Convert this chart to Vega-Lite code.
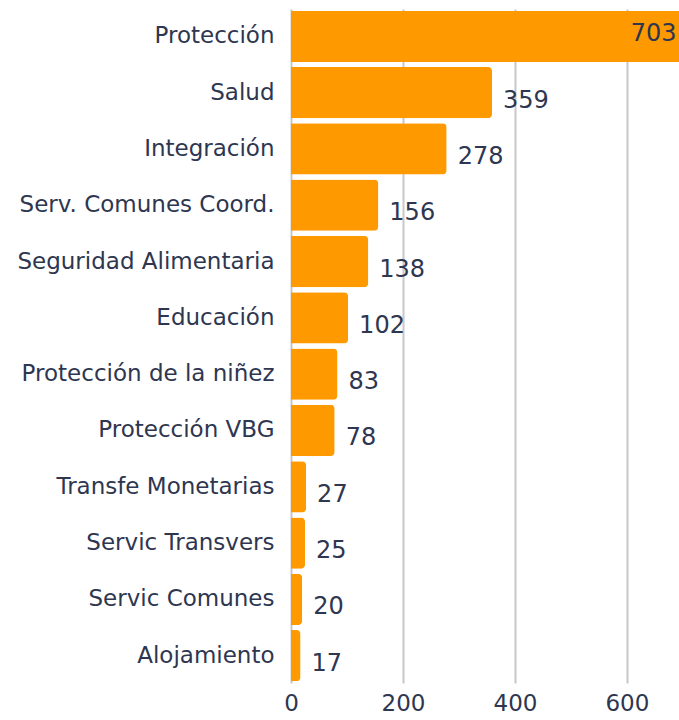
{
  "$schema": "https://vega.github.io/schema/vega-lite/v6.json",
  "width": 388,
  "height": 674,
  "autosize": {"type": "none"},
  "padding": {"left": 291, "top": 9, "right": 0, "bottom": 37},
  "background": "white",
  "config": {"view": {"stroke": null}, "font": "DejaVu Sans"},
  "data": {"values": [
    {"sector": "Protección", "value": 703},
    {"sector": "Salud", "value": 359},
    {"sector": "Integración", "value": 278},
    {"sector": "Serv. Comunes Coord.", "value": 156},
    {"sector": "Seguridad Alimentaria", "value": 138},
    {"sector": "Educación", "value": 102},
    {"sector": "Protección de la niñez", "value": 83},
    {"sector": "Protección VBG", "value": 78},
    {"sector": "Transfe Monetarias", "value": 27},
    {"sector": "Servic Transvers", "value": 25},
    {"sector": "Servic Comunes", "value": 20},
    {"sector": "Alojamiento", "value": 17}
  ]},
  "encoding": {
    "y": {"field": "sector", "type": "nominal", "sort": null,
      "scale": {"paddingInner": 0.09, "paddingOuter": 0.03},
      "axis": {"title": null, "domain": false, "ticks": false, "labelPadding": 17,
        "labelFontSize": 23, "labelColor": "#2e3650", "labelFont": "DejaVu Sans", "labelLimit": 400}},
    "x": {"field": "value", "type": "quantitative",
      "scale": {"domain": [0, 693], "nice": false},
      "axis": {"title": null, "values": [0, 200, 400, 600], "domain": false, "ticks": false,
        "grid": true, "gridColor": "#c8c8cc", "gridWidth": 2, "labelPadding": 9,
        "labelFontSize": 23, "labelColor": "#2e3650", "labelFont": "DejaVu Sans", "labelFlush": false}}
  },
  "layer": [
    {"mark": {"type": "bar", "color": "#FF9900", "cornerRadiusEnd": 4}},
    {"transform": [{"filter": "datum.value < 600"}],
     "mark": {"type": "text", "align": "left", "baseline": "middle", "dx": 11, "dy": 8,
       "fontSize": 24, "color": "#2e3650", "font": "DejaVu Sans"},
     "encoding": {"text": {"field": "value", "type": "quantitative"}}},
    {"transform": [{"filter": "datum.value >= 600"}],
     "mark": {"type": "text", "align": "right", "baseline": "middle", "dx": -8, "dy": -2,
       "fontSize": 24, "color": "#2e3650", "font": "DejaVu Sans"},
     "encoding": {"text": {"field": "value", "type": "quantitative"}}}
  ]
}
